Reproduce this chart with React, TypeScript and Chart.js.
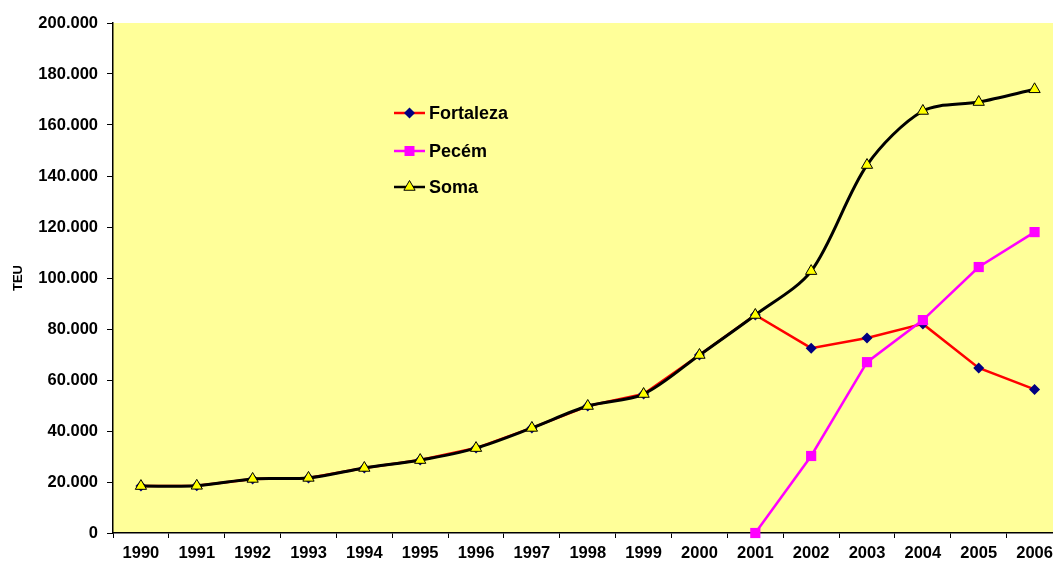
import React, { useEffect, useRef } from "react";
import { Chart, registerables } from "chart.js";

Chart.register(...registerables);

const years = ["1990","1991","1992","1993","1994","1995","1996","1997","1998","1999","2000","2001","2002","2003","2004","2005","2006"];
const fortaleza = [18400, 18500, 21200, 21600, 25500, 28600, 33300, 41200, 49800, 54500, 69800, 85500, 72500, 76500, 82000, 64700, 56300];
const pecem = [null, null, null, null, null, null, null, null, null, null, null, 0, 30200, 67000, 83500, 104300, 118000];
const soma = [18400, 18500, 21200, 21600, 25500, 28600, 33300, 41200, 49800, 54500, 69800, 85500, 102700, 144300, 165500, 169000, 174000];
const yTicksMax = 200000;
const yStep = 20000;
const axisTitle = "TEU";
const seriesNames = ["Fortaleza", "Pecém", "Soma"];

const FONT = "'Liberation Sans', Arial, sans-serif";

function fmt(v: number) {
  if (v === 0) return "0";
  const s = String(Math.round(v));
  return s.replace(/\B(?=(\d{3})+(?!\d))/g, ".");
}

const bgPlugin = {
  id: "plotBg",
  beforeDraw(chart: any) {
    const { ctx, chartArea } = chart;
    ctx.save();
    ctx.fillStyle = "#FFFF99";
    ctx.fillRect(chartArea.left, chartArea.top, chartArea.right - chartArea.left, chartArea.bottom - chartArea.top);
    ctx.restore();
  },
};

function drawMarker(ctx: CanvasRenderingContext2D, kind: string, x: number, y: number) {
  ctx.save();
  ctx.beginPath();
  if (kind === "diamond") {
    const r = 5.5;
    ctx.moveTo(x, y - r);
    ctx.lineTo(x + r, y);
    ctx.lineTo(x, y + r);
    ctx.lineTo(x - r, y);
    ctx.closePath();
    ctx.fillStyle = "#000080";
    ctx.fill();
  } else if (kind === "square") {
    const s = 5;
    ctx.rect(x - s, y - s, 2 * s, 2 * s);
    ctx.fillStyle = "#FF00FF";
    ctx.fill();
  } else {
    const r = 6.5;
    ctx.moveTo(x, y - r);
    ctx.lineTo(x + r * 0.866, y + r * 0.5);
    ctx.lineTo(x - r * 0.866, y + r * 0.5);
    ctx.closePath();
    ctx.fillStyle = "#FFFF00";
    ctx.fill();
    ctx.lineWidth = 1;
    ctx.strokeStyle = "#000000";
    ctx.stroke();
  }
  ctx.restore();
}

const legendPlugin = {
  id: "customLegend",
  afterDatasetsDraw(chart: any) {
    const { ctx } = chart;
    const rows = [
      { name: seriesNames[0], color: "#FF0000", marker: "diamond", y: 113 },
      { name: seriesNames[1], color: "#FF00FF", marker: "square", y: 151 },
      { name: seriesNames[2], color: "#000000", marker: "triangle", y: 187 },
    ];
    ctx.save();
    rows.forEach((r) => {
      ctx.beginPath();
      ctx.strokeStyle = r.color;
      ctx.lineWidth = 2.5;
      ctx.moveTo(394, r.y);
      ctx.lineTo(425, r.y);
      ctx.stroke();
      drawMarker(ctx, r.marker, 409.5, r.y);
      ctx.fillStyle = "#000000";
      ctx.font = "bold 18px " + FONT;
      ctx.textBaseline = "middle";
      ctx.textAlign = "left";
      ctx.fillText(r.name, 429, r.y + 1);
    });
    ctx.restore();
  },
};

export default function App() {
  const ref = useRef<HTMLCanvasElement>(null);
  useEffect(() => {
    if (!ref.current) return;
    const chart = new Chart(ref.current, {
      type: "line",
      data: {
        labels: years,
        datasets: [
          {
            label: seriesNames[0],
            data: fortaleza,
            borderColor: "#FF0000",
            backgroundColor: "#000080",
            borderWidth: 2.5,
            pointStyle: "rectRot",
            pointRadius: 5.5,
            pointBorderWidth: 0,
            pointBackgroundColor: "#000080",
            pointBorderColor: "#000080",
            tension: 0,
            order: 2,
            clip: false,
          },
          {
            label: seriesNames[1],
            data: pecem,
            borderColor: "#FF00FF",
            backgroundColor: "#FF00FF",
            borderWidth: 2.5,
            pointStyle: "rect",
            pointRadius: 7.2,
            pointBorderWidth: 0,
            pointBackgroundColor: "#FF00FF",
            pointBorderColor: "#FF00FF",
            tension: 0,
            order: 1,
            clip: false,
          },
          {
            label: seriesNames[2],
            data: soma,
            borderColor: "#000000",
            backgroundColor: "#FFFF00",
            borderWidth: 3,
            pointStyle: "triangle",
            pointRadius: 6.5,
            pointBorderWidth: 1,
            pointBackgroundColor: "#FFFF00",
            pointBorderColor: "#000000",
            tension: 0.3,
            order: 0,
            clip: false,
          },
        ],
      },
      options: {
        animation: false,
        responsive: false,
        devicePixelRatio: 1,
        layout: { padding: { left: 0, right: 5, top: 23, bottom: 0 } },
        plugins: {
          legend: { display: false },
          tooltip: { enabled: false },
        },
        scales: {
          x: {
            type: "category",
            offset: true,
            grid: {
              offset: true,
              display: true,
              drawOnChartArea: false,
              drawTicks: true,
              tickLength: 5,
              color: "#000000",
            },
            border: { display: true, color: "#000000", width: 1.5 },
            ticks: {
              color: "#000000",
              font: { family: FONT, size: 16.5, weight: "bold" },
              padding: 6,
              maxRotation: 0,
              autoSkip: false,
            },
            afterFit: (scale: any) => {
              scale.height = 31;
            },
          },
          y: {
            min: 0,
            max: yTicksMax,
            grid: {
              display: true,
              drawOnChartArea: false,
              drawTicks: true,
              tickLength: 6,
              color: "#000000",
            },
            border: { display: true, color: "#000000", width: 1.5 },
            ticks: {
              stepSize: yStep,
              color: "#000000",
              font: { family: FONT, size: 16.5, weight: "bold" },
              padding: 9,
              callback: (v: any) => fmt(Number(v)),
            },
            title: {
              display: true,
              text: axisTitle,
              color: "#000000",
              font: { family: FONT, size: 13, weight: "bold" },
              padding: { top: 11, bottom: 0 },
            },
            afterFit: (scale: any) => {
              scale.width = 113;
            },
          },
        },
      },
      plugins: [bgPlugin, legendPlugin],
    } as any);
    return () => chart.destroy();
  }, []);

  return (
    <div
      style={{
        position: "fixed",
        left: 0,
        top: 0,
        width: 1053,
        height: 564,
        overflow: "hidden",
        background: "#ffffff",
      }}
    >
      <canvas ref={ref} width={1070} height={564} style={{ display: "block", width: 1070, height: 564 }} />
    </div>
  );
}
